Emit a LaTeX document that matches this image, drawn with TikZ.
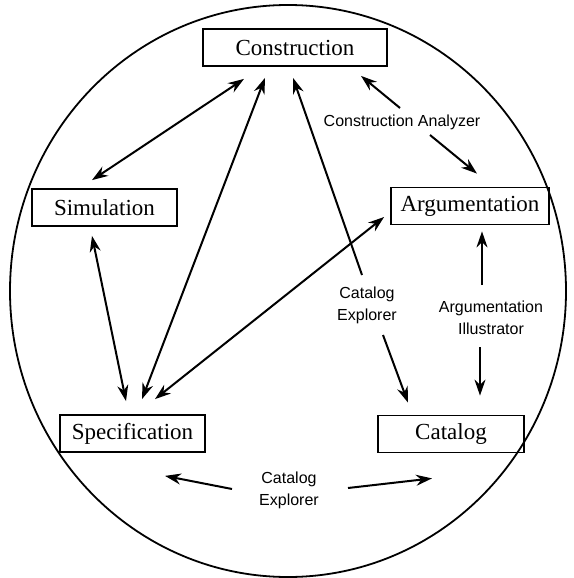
\documentclass[tikz,border=0pt]{standalone}
\usepackage{fontspec}
\setmainfont{Liberation Serif}
\newfontfamily\toolfont{Liberation Sans}
\usetikzlibrary{arrows.meta,calc}

\begin{document}
\begin{tikzpicture}[x=0.5pt,y=-0.5pt,
    box/.style={draw,line width=0.9pt,inner sep=0pt,minimum height=18.5pt,font=\fontsize{11.5}{13}\selectfont},
    tool/.style={inner sep=0pt,align=center,font=\toolfont\fontsize{8}{11}\selectfont},
    link/.style={line width=1pt,{Stealth[length=8pt,width=5.5pt]}-{Stealth[length=8pt,width=5.5pt]}},
    tolink/.style={line width=1pt,-{Stealth[length=8pt,width=5.5pt]}}]
  \useasboundingbox (0,0) rectangle (573,578);
  \draw[line width=0.9pt] (288,291) ellipse [x radius=139pt, y radius=143pt];
  \foreach \n/\x/\y/\w/\t in {con/295/47.5/92/Construction, arg/470/206/79/Argumentation,
      sim/104.5/207.5/72.5/Simulation, spec/132.5/433.5/72.5/Specification, cat/451/434/73/Catalog}{
      \node[box,minimum width=\w pt] (\n) at (\x,\y) {\t};
  }
  \node[tool] (ca) at (402,122) {Construction Analyzer};
  \node[tool] (ce) at (367,305) {Catalog\\Explorer};
  \node[tool] (ai) at (491,318) {Argumentation\\Illustrator};
  \node[tool] (cx) at (289,490) {Catalog\\Explorer};

  \draw[link] ($(sim.north)+(-12.5,-8)$) -- ($(con.south)+(-51,12)$);
  \draw[link] ($(sim.south)+(-12.5,9)$) -- ($(spec.north)+(-6.5,-13)$);
  \draw[link] ($(con.south)+(-30,11)$) -- ($(spec.north)+(9.5,-15)$);
  \draw[link] ($(arg.west)+(-6,11)$) -- ($(spec.north)+(22.5,-15)$);

  \draw[tolink] ($(ca)+(-2,-14)$) -- ($(con.south)+(66,9)$);
  \draw[tolink] ($(ca)+(28,13)$) -- ($(arg.north)+(7,-13)$);
  \draw[tolink] ($(ce)+(-5,-30)$) -- ($(con.south)+(-2,11)$);
  \draw[tolink] ($(ce)+(16,30)$) -- ($(cat.north)+(-43,-12)$);
  \draw[tolink] ($(ai)+(-9,-33)$) -- ($(arg.south)+(12,6)$);
  \draw[tolink] ($(ai)+(-11,29)$) -- ($(cat.north)+(29,-19)$);
  \draw[tolink] ($(cx)+(-57,-1)$) -- ($(spec.south)+(32.5,23)$);
  \draw[tolink] ($(cx)+(59,-2)$) -- ($(cat.south)+(-19,25)$);
\end{tikzpicture}
\end{document}
